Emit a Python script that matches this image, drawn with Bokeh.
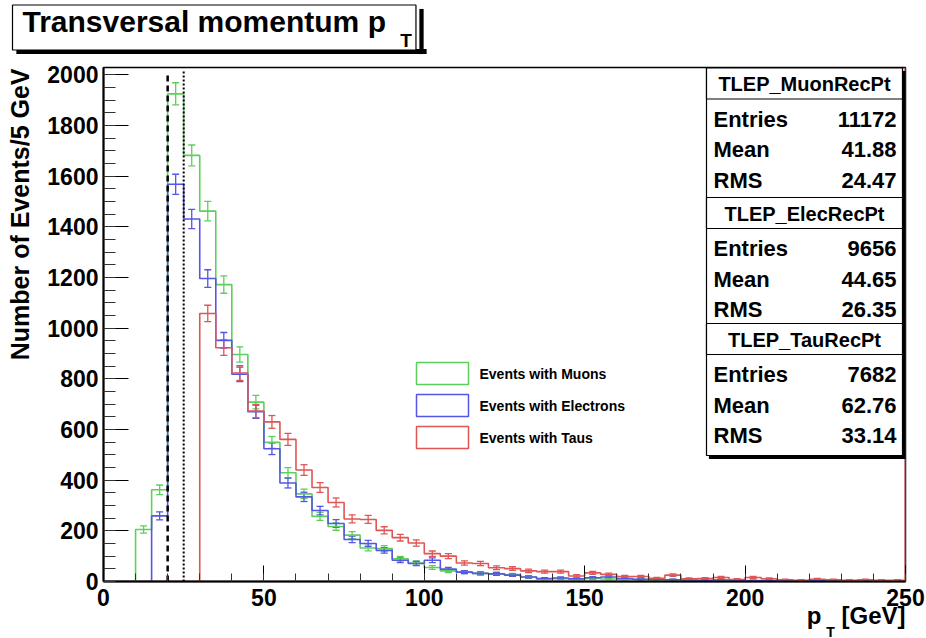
import numpy as np
from bokeh.plotting import figure
from bokeh.models import (Range1d, SingleIntervalTicker, ColumnDataSource, Whisker, TeeHead,
                          Label, BoxAnnotation)
from bokeh.embed import file_html
from bokeh.resources import INLINE

# ---------------- data ----------------
bin_edges = list(range(0, 255, 5))          # 5 GeV bins, 0..250
muon_counts = [0, 0, 205, 362, 1925, 1682, 1462, 1172, 896, 708,
               549, 429, 346, 257, 217, 183, 132, 130, 90, 73,
               55, 42, 37, 32, 30, 27, 18, 9, 11, 8,
               12, 10, 9, 8, 6, 7, 5, 4, 5, 3,
               4, 3, 2, 2, 3, 1, 2, 1, 1, 1]
elec_counts = [0, 0, 0, 259, 1568, 1431, 1196, 952, 818, 670,
               524, 389, 334, 280, 229, 166, 150, 123, 84, 71,
               84, 49, 37, 32, 30, 25, 18, 12, 14, 11,
               15, 18, 12, 9, 8, 7, 6, 5, 6, 4,
               3, 4, 3, 2, 3, 2, 2, 1, 1, 1]
tau_counts = [0, 0, 0, 0, 0, 0, 1058, 923, 823, 673,
              630, 561, 440, 371, 312, 247, 245, 202, 173, 152,
              110, 100, 73, 71, 54, 51, 42, 39, 39, 22,
              34, 28, 20, 20, 13, 25, 11, 12, 16, 8,
              16, 11, 7, 5, 9, 7, 5, 7, 5, 5]
series_labels = ["Events with Muons", "Events with Electrons", "Events with Taus"]
hist_names = ["TLEP_MuonRecPt", "TLEP_ElecRecPt", "TLEP_TauRecPt"]
stat_entries = ["11172", "9656", "7682"]
stat_mean = ["41.88", "44.65", "62.76"]
stat_rms = ["24.47", "26.35", "33.14"]
cut_values = [20, 25]
y_max = 2029
x_max = 250

colors = ["#5ccf5c", "#5555e6", "#e05555"]
FONT = "Liberation Sans"
NBSP = "\u00a0"

FL, FB, FT, FR = 103, 581, 67, 905     # frame edges in canvas pixels
def sx(px):
    return px - FL
def sy(py):
    return FB - py

p = figure(width=926, height=638, output_backend="svg", toolbar_location=None,
           x_range=Range1d(0, x_max), y_range=Range1d(0, y_max),
           min_border_left=FL, min_border_right=926 - FR, min_border_top=FT,
           min_border_bottom=638 - FB)
p.title.visible = False
p.background_fill_color = "white"
p.border_fill_color = "white"
p.outline_line_color = "black"
p.outline_line_width = 1.5
p.xgrid.visible = False
p.ygrid.visible = False

p.xaxis.ticker = SingleIntervalTicker(interval=50, num_minor_ticks=5)
p.yaxis.ticker = SingleIntervalTicker(interval=200, num_minor_ticks=4)
for ax, mj, mn in ((p.xaxis, 16, 8), (p.yaxis, 25, 12)):
    ax.major_tick_in = mj
    ax.major_tick_out = 0
    ax.minor_tick_in = mn
    ax.minor_tick_out = 0
    ax.axis_line_width = 2
    ax.axis_line_color = "black"
    ax.major_tick_line_color = "black"
    ax.minor_tick_line_color = "#333333"
    ax.major_label_text_font = FONT
    ax.major_label_text_font_style = "bold"
    ax.major_label_text_font_size = "23px"
    ax.major_label_text_color = "black"
p.xaxis.major_label_standoff = 7
p.yaxis.major_label_standoff = 5

# ---------------- histograms ----------------
edges = np.array(bin_edges, dtype=float)
centers = (edges[:-1] + edges[1:]) / 2
for counts, col in zip((muon_counts, elec_counts, tau_counts), colors):
    v = np.array(counts, dtype=float)
    xs = np.repeat(edges, 2)
    ys = np.concatenate([[0], np.repeat(v, 2), [0]])
    p.line(xs, ys, line_color=col, line_width=1.6)
    m = v > 0
    err = np.sqrt(v[m])
    src = ColumnDataSource(dict(x=centers[m], lo=v[m] - err, hi=v[m] + err))
    w = Whisker(source=src, base="x", lower="lo", upper="hi", line_color=col, line_width=1.3,
                upper_head=TeeHead(size=7, line_color=col, line_width=1.3),
                lower_head=TeeHead(size=7, line_color=col, line_width=1.3))
    p.add_layout(w)

p.segment(x0=[x_max], y0=[0], x1=[x_max], y1=[y_max], line_color=colors[2], line_width=2)
p.segment(x0=[cut_values[0]], y0=[0], x1=[cut_values[0]], y1=[2010],
          line_color="black", line_width=2.5, line_dash="6 4")
p.segment(x0=[cut_values[1]], y0=[0], x1=[cut_values[1]], y1=[2015],
          line_color="black", line_width=2, line_dash="2 2")

def box(l, t, r, b, fill, line, lw=1.2):
    return BoxAnnotation(left=sx(l), right=sx(r), top=sy(t), bottom=sy(b),
                         left_units="screen", right_units="screen",
                         top_units="screen", bottom_units="screen",
                         fill_color=fill, fill_alpha=1,
                         line_color=line, line_width=lw, line_alpha=1,
                         line_dash="solid")

def txt(x, y, s, size, align="left", angle=0, **kw):
    return Label(x=x, y=y, x_units="screen", y_units="screen", text=s,
                 text_font=FONT, text_font_style="bold", text_font_size=size,
                 text_align=align, text_baseline="middle", text_color="black",
                 angle=angle, **kw)

# ---------------- legend (drawn like ROOT's TLegend) ----------------
leg_tops = [362, 394, 426]
for lab, col, t in zip(series_labels, colors, leg_tops):
    p.add_layout(box(416, t, 468, t + 22, "white", col, 1.5))
    p.add_layout(txt(sx(479), sy(t + 11), lab, "14px"))

# ---------------- stats boxes ----------------
p.add_layout(box(709, 71, 906, 458, "black", "black"))
tops = [67.5, 197, 323]
bots = [197, 323, 455]
for i in range(3):
    t, b = tops[i], bots[i]
    p.add_layout(box(706, t, 902, b, "white", "black"))
    p.add_layout(box(706, t, 902, t + 31, "white", "black"))
    p.add_layout(txt(sx(804), sy(t + 16), hist_names[i], "20px", align="center"))
    for k, (name, val) in enumerate((("Entries", stat_entries[i]),
                                     ("Mean", stat_mean[i]),
                                     ("RMS", stat_rms[i]))):
        yc = t + 51 + k * 30.5
        p.add_layout(txt(sx(713), sy(yc), name, "22px"))
        p.add_layout(txt(sx(896), sy(yc), val, "22px", align="right"))

# ---------------- title & axis titles (side panels, so they are not clipped) ----------------
# above panel: bottom shadow strip of the title box (nearest the frame), then the title box
p.add_layout(txt(221 - FL, FT - 51, NBSP, "1px", align="center",
                 background_fill_color="black", border_line_color=None,
                 padding=dict(left=205, right=205, top=2, bottom=2)), "above")
p.add_layout(txt(12 - FL, FT - 5 - 27, "Transversal momentum p", "30px",
                 background_fill_color="white", border_line_color="black",
                 border_line_width=1.2,
                 padding=dict(left=10, right=30, top=0, bottom=12)), "above")
# left panel (outside the axis): axis title, then right shadow strip of the title box
p.add_layout(txt(3, FB - 68, "Number of Events/5 GeV", "25px", align="right",
                 angle=np.pi / 2), "left")
p.add_layout(txt(424 - 15, FB - 31, NBSP, "1px", align="center",
                 background_fill_color="black", border_line_color=None,
                 padding=dict(left=2, right=2, top=22, bottom=22)), "left")
# below panel (outside the axis)
p.add_layout(txt(FR - FL, 20.5, "p" + NBSP * 3 + "[GeV]", "24px", align="right"), "below")
# right panel: subscripts
p.add_layout(txt(830 - FR, FB - 631, "T", "14px", align="center"), "right")
p.add_layout(txt(405.5 - (FR + 9), FB - 40, "T", "19px", align="center"), "right")

open("out.html", "w").write(file_html(p, INLINE))
